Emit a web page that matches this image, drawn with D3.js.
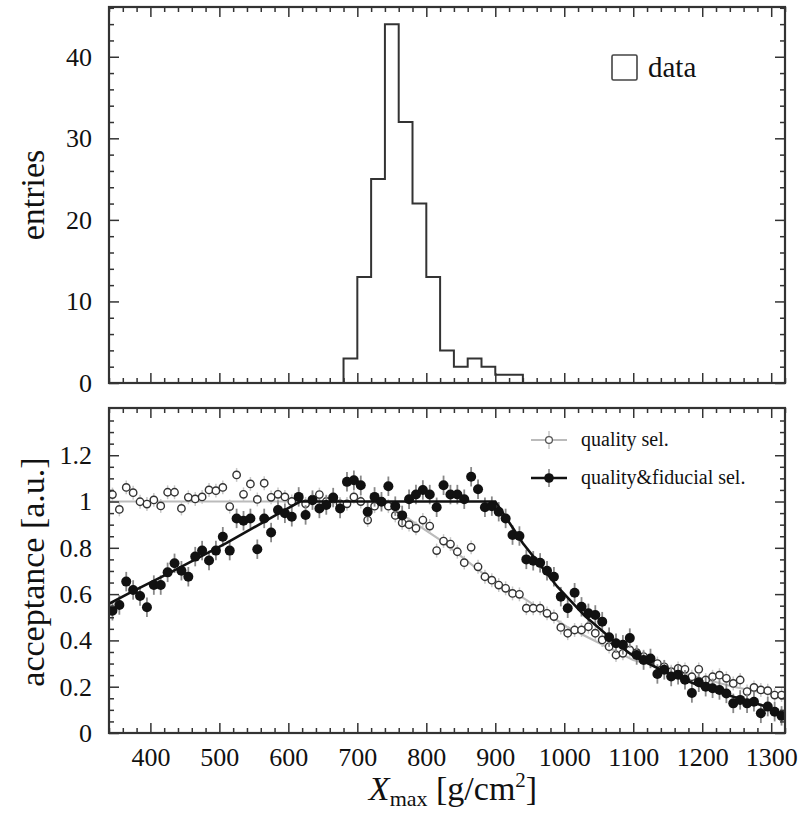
<!DOCTYPE html>
<html><head><meta charset="utf-8">
<script src="https://cdn.jsdelivr.net/npm/d3@7"></script>
<style>
html,body{margin:0;padding:0;background:#fff;}
svg text{font-family:"Liberation Serif","DejaVu Serif",serif;fill:#111;}
</style></head>
<body><svg id="c" width="805" height="814"></svg>
<script>
// ---------- data ----------
const histEdges = [680,700,720,740,760,780,800,820,840,860,880,900,920,940];
const histCounts = [3,13,25,44,32,22,13,4,2,3,2,1,1];

const binCenters = d3.range(345, 1316, 10); // 98 bins
const qualityVals = [
 1.03,0.966,1.061,1.038,0.999,0.989,1.007,0.981,1.04,1.04,
 0.97,1.018,1.011,1.02,1.05,1.047,1.061,0.978,1.115,1.031,
 1.076,1.009,1.079,1.018,1.031,1.02,1.0,1.02,0.99,1.01,
 1.03,1.0,1.01,0.99,0.99,1.02,1.0,0.92,0.98,1.0,
 0.98,0.94,0.908,0.90,0.884,0.92,0.894,0.788,0.829,0.816,
 0.783,0.736,0.802,0.718,0.675,0.66,0.639,0.625,0.603,0.599,
 0.539,0.539,0.539,0.517,0.503,0.456,0.431,0.445,0.445,0.459,
 0.431,0.402,0.373,0.337,0.344,0.359,0.347,0.33,0.315,0.30,
 0.286,0.265,0.279,0.275,0.243,0.275,0.229,0.243,0.25,0.236,
 0.214,0.229,0.179,0.197,0.186,0.183,0.164,0.164];
const fiducialVals = [
 0.528,0.553,0.654,0.618,0.592,0.543,0.639,0.639,0.694,0.733,
 0.701,0.675,0.762,0.788,0.745,0.788,0.848,0.788,0.927,0.917,
 0.927,0.794,0.927,0.866,0.963,0.949,0.934,1.02,0.942,1.006,
 0.97,0.985,1.017,0.97,1.085,1.092,1.07,0.956,1.02,0.999,
 1.066,0.98,0.94,1.01,1.03,1.05,1.03,0.975,1.07,1.03,
 1.03,1.01,1.107,1.053,0.975,0.98,0.956,0.927,0.855,0.851,
 0.75,0.744,0.735,0.701,0.675,0.589,0.539,0.606,0.545,0.517,
 0.51,0.481,0.414,0.388,0.381,0.41,0.337,0.315,0.322,0.255,
 0.273,0.244,0.252,0.23,0.173,0.219,0.2,0.193,0.186,0.171,
 0.128,0.143,0.128,0.135,0.085,0.114,0.092,0.074];
const qualityErr = 0.03;
const fiducialErr = 0.042;

const qualityFitX = [340,745,762,820,882,945,1003,1052,1100,1172,1245,1320];
const qualityFitY = [1.0,1.0,0.95,0.834,0.69,0.575,0.46,0.387,0.315,0.258,0.2,0.155];
const fiducialFitX = [340,370,430,510,590,617,900,940,990,1030,1075,1100,1150,1200,1245,1295,1320];
const fiducialFitY = [0.558,0.605,0.695,0.82,0.955,1.0,1.0,0.82,0.632,0.505,0.39,0.333,0.258,0.2,0.157,0.112,0.075];

const topYTicks = [0,10,20,30,40];
const botYTicks = [0,0.2,0.4,0.6,0.8,1.0,1.2];
const xTicks = [400,500,600,700,800,900,1000,1100,1200,1300];

// ---------- layout ----------
const svg = d3.select("#c");
const L = 109, R = 785;
const topT = 7, topB = 383, botT = 408, botB = 733;
const x = d3.scaleLinear().domain([340,1320]).range([L,R]);
const yTop = d3.scaleLinear().domain([0,46.1]).range([topB,topT]);
const yBot = d3.scaleLinear().domain([0,1.404]).range([botB,botT]);

const xMinor = d3.range(340,1321,20).filter(v=>v%100!==0);
const topMinor = d3.range(0,46.1,2).filter(v=>v%10!==0);
const botMinor = d3.range(0,1.40,0.05).map(v=>+v.toFixed(2)).filter(v=>Math.abs(v*5-Math.round(v*5))>1e-6);

function styleAxis(g){ g.select(".domain").remove(); g.selectAll("line").attr("stroke","#333").attr("stroke-width",1.5); }

function frame(yS, top, bot, yMaj, yMin, fmt, showX){
  svg.append("g").attr("transform",`translate(0,${bot})`)
    .call(d3.axisBottom(x).tickValues(xTicks).tickSize(-10).tickPadding(14.5).tickFormat(showX? d3.format("d"): ""))
    .call(styleAxis).selectAll("text").style("font-size","26px").style("font-family","Liberation Serif");
  svg.append("g").attr("transform",`translate(0,${bot})`)
    .call(d3.axisBottom(x).tickValues(xMinor).tickSize(-5).tickFormat("")).call(styleAxis);
  svg.append("g").attr("transform",`translate(0,${top})`)
    .call(d3.axisTop(x).tickValues(xTicks).tickSize(-10).tickFormat("")).call(styleAxis);
  svg.append("g").attr("transform",`translate(0,${top})`)
    .call(d3.axisTop(x).tickValues(xMinor).tickSize(-5).tickFormat("")).call(styleAxis);
  svg.append("g").attr("transform",`translate(${L},0)`)
    .call(d3.axisLeft(yS).tickValues(yMaj).tickSize(-10).tickPadding(17).tickFormat(fmt))
    .call(styleAxis).selectAll("text").style("font-size","26px").style("font-family","Liberation Serif");
  svg.append("g").attr("transform",`translate(${L},0)`)
    .call(d3.axisLeft(yS).tickValues(yMin).tickSize(-5).tickFormat("")).call(styleAxis);
  svg.append("g").attr("transform",`translate(${R},0)`)
    .call(d3.axisRight(yS).tickValues(yMaj).tickSize(-10).tickFormat("")).call(styleAxis);
  svg.append("g").attr("transform",`translate(${R},0)`)
    .call(d3.axisRight(yS).tickValues(yMin).tickSize(-5).tickFormat("")).call(styleAxis);
  svg.append("rect").attr("x",L).attr("y",top).attr("width",R-L).attr("height",bot-top)
    .attr("fill","none").attr("stroke","#333").attr("stroke-width",2.2);
}

// ---------- top panel ----------
const histPts = [];
histCounts.forEach((c,i)=>{ histPts.push([histEdges[i],c]); histPts.push([histEdges[i+1],c]); });
const histLine = d3.line().x(d=>x(d[0])).y(d=>yTop(d[1]));
const hp = [[histEdges[0],0], ...histPts, [histEdges[histEdges.length-1],0]];
svg.append("path").attr("d",histLine(hp)).attr("fill","none").attr("stroke","#333").attr("stroke-width",2);

frame(yTop, topT, topB, topYTicks, topMinor, d3.format("d"), false);

svg.append("rect").attr("x",612).attr("y",55).attr("width",25).attr("height",25).attr("rx",1.5)
  .attr("fill","none").attr("stroke","#444").attr("stroke-width",1.6);
svg.append("text").attr("x",648).attr("y",77).style("font-size","29px").text("data");

// ---------- bottom panel ----------
const fitLine = d3.line().x(d=>x(d[0])).y(d=>yBot(d[1]));
const qFit = qualityFitX.map((v,i)=>[v,qualityFitY[i]]);
const fFit = fiducialFitX.map((v,i)=>[v,fiducialFitY[i]]);
const qPts = binCenters.map((v,i)=>({x:v,y:qualityVals[i]}));
const fPts = binCenters.map((v,i)=>({x:v,y:fiducialVals[i]}));

svg.append("clipPath").attr("id","clipB").append("rect")
  .attr("x",L).attr("y",botT).attr("width",R-L).attr("height",botB-botT);
const gB = svg.append("g").attr("clip-path","url(#clipB)");

gB.append("path").attr("d",fitLine(qFit)).attr("fill","none").attr("stroke","#bbb").attr("stroke-width",2.2);
gB.selectAll(".qe").data(qPts).join("line")
  .attr("x1",d=>x(d.x)).attr("x2",d=>x(d.x))
  .attr("y1",d=>yBot(d.y-qualityErr)).attr("y2",d=>yBot(d.y+qualityErr))
  .attr("stroke","#c8c8c8").attr("stroke-width",1.5);
gB.selectAll(".qc").data(qPts).join("circle")
  .attr("cx",d=>x(d.x)).attr("cy",d=>yBot(d.y)).attr("r",3.7)
  .attr("fill","#fff").attr("stroke","#333").attr("stroke-width",1.4);
gB.selectAll(".fe").data(fPts).join("line")
  .attr("x1",d=>x(d.x)).attr("x2",d=>x(d.x))
  .attr("y1",d=>yBot(d.y-fiducialErr)).attr("y2",d=>yBot(d.y+fiducialErr))
  .attr("stroke","#888").attr("stroke-width",1.8);
gB.append("path").attr("d",fitLine(fFit)).attr("fill","none").attr("stroke","#111").attr("stroke-width",2.6);
gB.selectAll(".fc").data(fPts).join("circle")
  .attr("cx",d=>x(d.x)).attr("cy",d=>yBot(d.y)).attr("r",5)
  .attr("fill","#111");

frame(yBot, botT, botB, botYTicks, botMinor, d=> d===0?"0":(d===1?"1":d3.format(".1f")(d)), true);

const lg = [{y:440,t:"quality sel.",open:true},{y:478,t:"quality&fiducial sel.",open:false}];
lg.forEach(o=>{
  svg.append("line").attr("x1",531).attr("x2",567).attr("y1",o.y).attr("y2",o.y)
    .attr("stroke",o.open?"#bbb":"#111").attr("stroke-width",o.open?1.8:2.4);
  svg.append("line").attr("x1",549).attr("x2",549).attr("y1",o.y-9).attr("y2",o.y+9)
    .attr("stroke",o.open?"#c8c8c8":"#888").attr("stroke-width",1.6);
  if(o.open) svg.append("circle").attr("cx",549).attr("cy",o.y).attr("r",3.4).attr("fill","#fff").attr("stroke","#555").attr("stroke-width",1.3);
  else svg.append("circle").attr("cx",549).attr("cy",o.y).attr("r",4.8).attr("fill","#111");
  svg.append("text").attr("x",581).attr("y",o.y+6).style("font-size","20px").text(o.t);
});

svg.append("text").attr("transform","translate(44,195) rotate(-90)").attr("text-anchor","middle")
  .style("font-size","34px").text("entries");
svg.append("text").attr("transform","translate(44,572) rotate(-90)").attr("text-anchor","middle")
  .style("font-size","34px").text("acceptance [a.u.]");
const xt = svg.append("text").attr("x",453).attr("y",800).attr("text-anchor","middle").style("font-size","34px");
xt.append("tspan").style("font-style","italic").text("X");
xt.append("tspan").attr("dy",6).style("font-size","22px").text("max");
xt.append("tspan").attr("dy",-6).text(" [g/cm");
xt.append("tspan").attr("dy",-13).style("font-size","21px").text("2");
xt.append("tspan").attr("dy",13).text("]");
</script></body></html>
